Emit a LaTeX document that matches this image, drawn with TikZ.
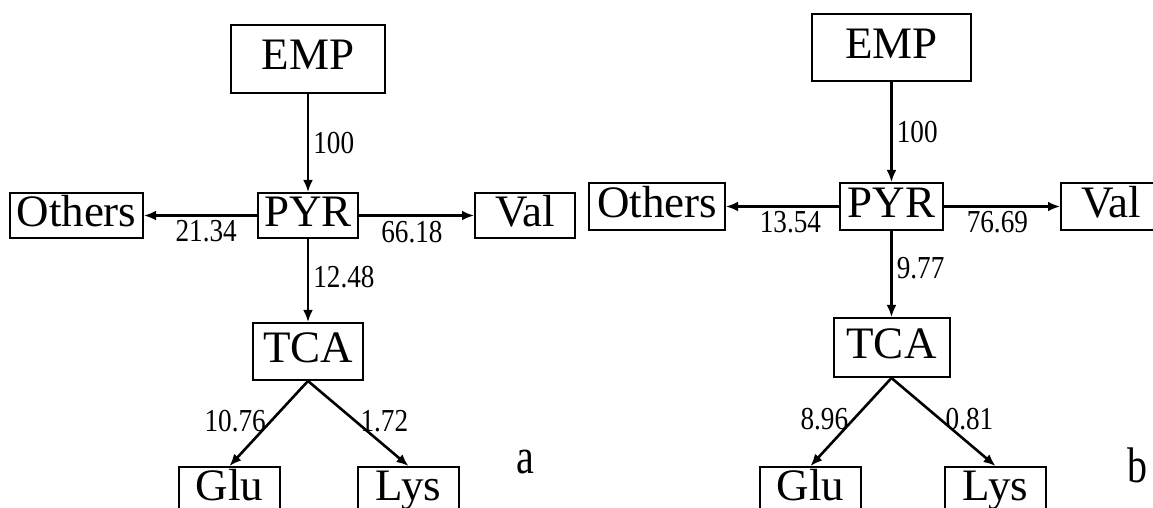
\documentclass[tikz,border=0pt]{standalone}
\usepackage{fontspec}
\setmainfont{Liberation Serif}
\newfontfamily\flowfont[FakeStretch=0.85]{Liberation Serif}
\newfontfamily\panelfont[FakeStretch=0.8]{Liberation Serif}
\usetikzlibrary{arrows.meta}
\tikzstyle{pathwaystyle}=[
    x=0.5pt, y=-0.5pt,
    >={Latex[length=6pt,width=5pt]},
    every node/.style={font=\fontsize{22.5}{24}\selectfont},
]
\tikzstyle{pathbox}=[draw, line width=1pt, inner sep=0pt,
    text height=15.5pt, text depth=4.5pt]
\tikzstyle{flow}=[->, line width=1.3pt]
\tikzstyle{flowlabel}=[font=\flowfont\fontsize{16}{16}\selectfont, inner sep=2pt]
\tikzstyle{paneltag}=[font=\panelfont\fontsize{25}{25}\selectfont]

\begin{document}
\begin{tikzpicture}[pathwaystyle]
        \useasboundingbox (0,0) rectangle (1153,508);
        % panel a
        \node (empA) at (308, 59) [pathbox, minimum width=77pt, minimum height=34pt] {EMP};
        \node (pyrA) at (308, 215.5) [pathbox, minimum width=50pt, minimum height=22.5pt] {PYR};
        \node (othA) at (76.5, 215.5) [pathbox, minimum width=66.5pt, minimum height=22.5pt] {Others};
        \node (valA) at (525, 215.5) [pathbox, minimum width=50pt, minimum height=22.5pt] {Val};
        \node (tcaA) at (308, 351.5) [pathbox, minimum width=55pt, minimum height=28.5pt] {TCA};
        \node (gluA) at (229.5, 489.5) [pathbox, minimum width=50.5pt, minimum height=22.5pt] {Glu};
        \node (lysA) at (408.5, 489.5) [pathbox, minimum width=50.5pt, minimum height=22.5pt] {Lys};
        \node (tagA) at (525, 462) [paneltag] {a};
        \draw[flow] (empA) -- (pyrA) node[flowlabel, pos=0.5, right] {100};
        \draw[flow] (pyrA) -- (othA) node[flowlabel, pos=0.45, below] {21.34};
        \draw[flow] (pyrA) -- (valA) node[flowlabel, pos=0.46, below] {66.18};
        \draw[flow] (pyrA) -- (tcaA) node[flowlabel, pos=0.46, right] {12.48};
        \draw[flow] (tcaA.south) -- (gluA.north) node[flowlabel, pos=0.47, left] {10.76};
        \draw[flow] (tcaA.south) -- (lysA.north) node[flowlabel, pos=0.47, right] {1.72};
        % panel b
        \node (empB) at (891.5, 47.5) [pathbox, minimum width=79.5pt, minimum height=33.5pt] {EMP};
        \node (pyrB) at (891.5, 206.5) [pathbox, minimum width=51.5pt, minimum height=23.5pt] {PYR};
        \node (othB) at (657, 206.5) [pathbox, minimum width=68pt, minimum height=23.5pt] {Others};
        \node (valB) at (1111, 206.5) [pathbox, minimum width=50pt, minimum height=23.5pt] {Val};
        \node (tcaB) at (891.5, 347.5) [pathbox, minimum width=58pt, minimum height=29.5pt] {TCA};
        \node (gluB) at (810.5, 489.5) [pathbox, minimum width=50.5pt, minimum height=22.5pt] {Glu};
        \node (lysB) at (995.5, 489.5) [pathbox, minimum width=50.5pt, minimum height=22.5pt] {Lys};
        \node (tagB) at (1137, 465) [paneltag] {b};
        \draw[flow] (empB) -- (pyrB) node[flowlabel, pos=0.5, right] {100};
        \draw[flow] (pyrB) -- (othB) node[flowlabel, pos=0.43, below] {13.54};
        \draw[flow] (pyrB) -- (valB) node[flowlabel, pos=0.46, below] {76.69};
        \draw[flow] (pyrB) -- (tcaB) node[flowlabel, pos=0.43, right] {9.77};
        \draw[flow] (tcaB.south) -- (gluB.north) node[flowlabel, pos=0.47, left] {8.96};
        \draw[flow] (tcaB.south) -- (lysB.north) node[flowlabel, pos=0.47, right] {0.81};
    \end{tikzpicture}
\end{document}
